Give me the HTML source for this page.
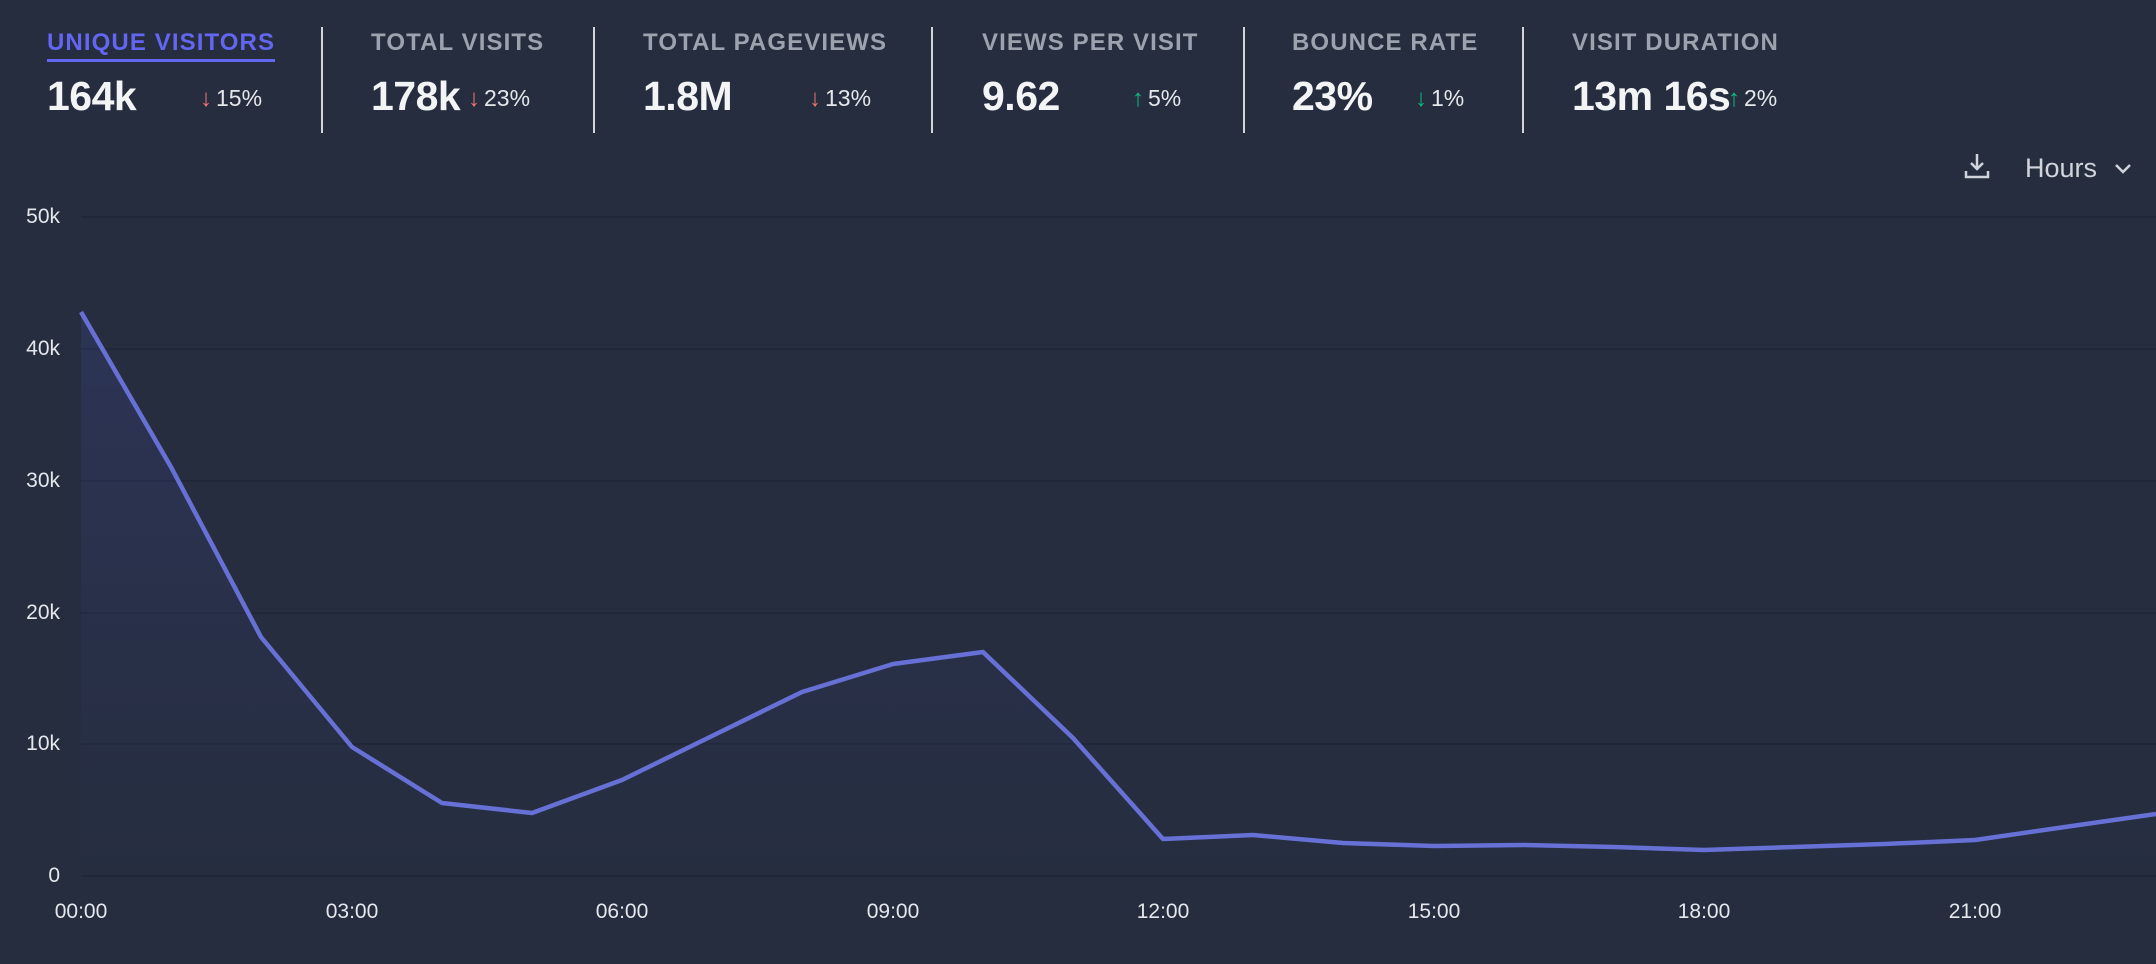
<!DOCTYPE html>
<html><head><meta charset="utf-8"><style>
body{margin:0;width:2156px;height:964px;background:#252d3f;font-family:"Liberation Sans",sans-serif;overflow:hidden;position:relative}
.lab{position:absolute;top:29px;font-size:24px;font-weight:bold;color:#9ca3af;letter-spacing:1.1px;white-space:nowrap}
.val{position:absolute;top:73px;font-size:41px;font-weight:bold;color:#f3f4f6;white-space:nowrap;letter-spacing:-0.5px}
.chg{position:absolute;top:85px;font-size:23px;color:#e5e7eb;white-space:nowrap}
.chg span{font-weight:bold;font-size:24px;margin-right:4px}
.dn{color:#f87171}.up{color:#10b981}
.div{position:absolute;top:27px;height:106px;width:2px;background:#d1d5db}
.yl{position:absolute;width:60px;text-align:right;font-size:21px;color:#e5e7eb}
.xl{position:absolute;top:900px;font-size:21px;color:#e5e7eb;width:100px;margin-left:-50px;text-align:center}
</style></head><body>
<div class="lab" style="left:47px;color:#6366f1;border-bottom:3px solid #6366f1;padding-bottom:2px">UNIQUE VISITORS</div>
<div class="val" style="left:47px">164k</div><div class="chg" style="left:200px"><span class="dn">↓</span>15%</div>
<div class="div" style="left:321px"></div>
<div class="lab" style="left:371px">TOTAL VISITS</div>
<div class="val" style="left:371px">178k</div><div class="chg" style="left:468px"><span class="dn">↓</span>23%</div>
<div class="div" style="left:593px"></div>
<div class="lab" style="left:643px">TOTAL PAGEVIEWS</div>
<div class="val" style="left:643px">1.8M</div><div class="chg" style="left:809px"><span class="dn">↓</span>13%</div>
<div class="div" style="left:931px"></div>
<div class="lab" style="left:982px">VIEWS PER VISIT</div>
<div class="val" style="left:982px">9.62</div><div class="chg" style="left:1132px"><span class="up">↑</span>5%</div>
<div class="div" style="left:1243px"></div>
<div class="lab" style="left:1292px">BOUNCE RATE</div>
<div class="val" style="left:1292px">23%</div><div class="chg" style="left:1415px"><span class="up">↓</span>1%</div>
<div class="div" style="left:1522px"></div>
<div class="lab" style="left:1572px">VISIT DURATION</div>
<div class="val" style="left:1572px">13m 16s</div><div class="chg" style="left:1728px"><span class="up">↑</span>2%</div>

<svg style="position:absolute;left:1962px;top:151px" width="30" height="30" viewBox="0 0 30 30" fill="none" stroke="#d1d5db" stroke-width="2.5"><path d="M15 3v15M9 12l6 6 6-6M4 20v6h22v-6"/></svg>
<div style="position:absolute;left:2025px;top:153px;font-size:27px;color:#d1d5db">Hours</div>
<svg style="position:absolute;left:2113px;top:162px" width="20" height="14" viewBox="0 0 20 14" fill="none" stroke="#d1d5db" stroke-width="2.5"><path d="M3 3l7 7 7-7"/></svg>

<div class="yl" style="left:0;top:205px">50k</div>
<div class="yl" style="left:0;top:337px">40k</div>
<div class="yl" style="left:0;top:469px">30k</div>
<div class="yl" style="left:0;top:601px">20k</div>
<div class="yl" style="left:0;top:732px">10k</div>
<div class="yl" style="left:0;top:864px">0</div>
<div class="xl" style="left:81px">00:00</div>
<div class="xl" style="left:352px">03:00</div>
<div class="xl" style="left:622px">06:00</div>
<div class="xl" style="left:893px">09:00</div>
<div class="xl" style="left:1163px">12:00</div>
<div class="xl" style="left:1434px">15:00</div>
<div class="xl" style="left:1704px">18:00</div>
<div class="xl" style="left:1975px">21:00</div>

<svg style="position:absolute;left:0;top:0" width="2156" height="964">
<defs><linearGradient id="g" x1="0" y1="300" x2="0" y2="876" gradientUnits="userSpaceOnUse"><stop offset="0" stop-color="#6366f1" stop-opacity="0.13"/><stop offset="1" stop-color="#6366f1" stop-opacity="0"/></linearGradient></defs>
<g stroke="#1f2636" stroke-width="1.5">
<line x1="81" x2="2156" y1="217" y2="217"/><line x1="81" x2="2156" y1="349" y2="349"/><line x1="81" x2="2156" y1="481" y2="481"/><line x1="81" x2="2156" y1="613" y2="613"/><line x1="81" x2="2156" y1="744" y2="744"/><line x1="81" x2="2156" y1="876" y2="876"/>
</g>
<path fill="url(#g)" d="M81,312 L171,467 L261,637 L352,747 L442,803 L532,813 L622,780 L712,736 L802,692 L893,664 L983,652 L1073,738 L1163,839 L1253,835 L1343,843 L1434,846 L1524,845 L1614,847 L1704,850 L1794,847 L1884,844 L1975,840 L2065,827 L2156,814 L2156,876 L81,876Z"/>
<polyline fill="none" stroke="#6770d5" stroke-width="4.5" stroke-linejoin="round" points="81,312 171,467 261,637 352,747 442,803 532,813 622,780 712,736 802,692 893,664 983,652 1073,738 1163,839 1253,835 1343,843 1434,846 1524,845 1614,847 1704,850 1794,847 1884,844 1975,840 2065,827 2156,814"/>
</svg>
</body></html>
